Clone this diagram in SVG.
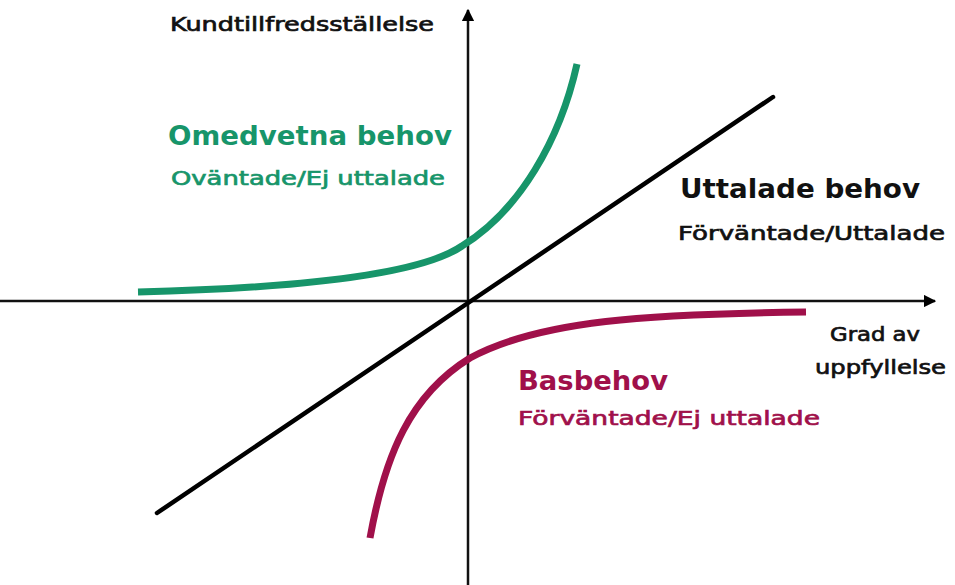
<svg xmlns="http://www.w3.org/2000/svg" width="955" height="585" viewBox="0 0 955 585">
<defs>
<marker id="arr" viewBox="0 0 10 10" refX="9" refY="5" markerWidth="5" markerHeight="5" orient="auto" markerUnits="strokeWidth">
<path d="M0,0 L10,5 L0,10 z" fill="#000"/>
</marker>
<style>
.ax{stroke:#111;stroke-width:2.5;fill:none}
.t{font-family:"DejaVu Sans","Noto Sans",sans-serif}
.big{font-size:27px;font-weight:bold}
.sm{font-size:20px;stroke-width:0.7}
.green{fill:#17956a}
.red{fill:#a0104a}
.blk{fill:#111}
.sm.green{stroke:#17956a}
.sm.red{stroke:#a0104a}
.sm.blk{stroke:#111}
</style>
</defs>
<rect width="955" height="585" fill="#fff"/>
<g id="connectors">
<line class="ax" x1="0" y1="301" x2="935" y2="301" marker-end="url(#arr)"/>
<line class="ax" x1="468" y1="585" x2="468" y2="10" marker-end="url(#arr)"/>
<line x1="157" y1="513" x2="773" y2="97" stroke="#000" stroke-width="4.5" stroke-linecap="round"/>
<path id="green-curve" d="M138,292 C300,288 420,275 462,246 C520,210 560,140 577,64" fill="none" stroke="#17956a" stroke-width="7"/>
<path id="red-curve" d="M370,538 C385,455 410,395 470,358 C540,320 650,314 806,312" fill="none" stroke="#a0104a" stroke-width="7"/>
</g>
<g id="y-label"><text class="t sm blk" x="170" y="31" font-size="19" textLength="264" lengthAdjust="spacingAndGlyphs">Kundtillfredsställelse</text></g>
<g id="x-label">
<text class="t blk sm" x="830" y="341" textLength="90" lengthAdjust="spacingAndGlyphs">Grad av</text>
<text class="t blk sm" x="815" y="374" textLength="131" lengthAdjust="spacingAndGlyphs">uppfyllelse</text>
</g>
<g id="omedvetna">
<text class="t big green" x="168" y="145" textLength="284" lengthAdjust="spacingAndGlyphs">Omedvetna behov</text>
<text class="t sm green" x="171" y="185" textLength="274" lengthAdjust="spacingAndGlyphs">Oväntade/Ej uttalade</text>
</g>
<g id="uttalade">
<text class="t big blk" x="680" y="198" textLength="240" lengthAdjust="spacingAndGlyphs">Uttalade behov</text>
<text class="t sm blk" x="678" y="240" textLength="267" lengthAdjust="spacingAndGlyphs">Förväntade/Uttalade</text>
</g>
<g id="basbehov">
<text class="t big red" x="518" y="390" textLength="150" lengthAdjust="spacingAndGlyphs">Basbehov</text>
<text class="t sm red" x="518" y="425" textLength="302" lengthAdjust="spacingAndGlyphs">Förväntade/Ej uttalade</text>
</g>
</svg>
